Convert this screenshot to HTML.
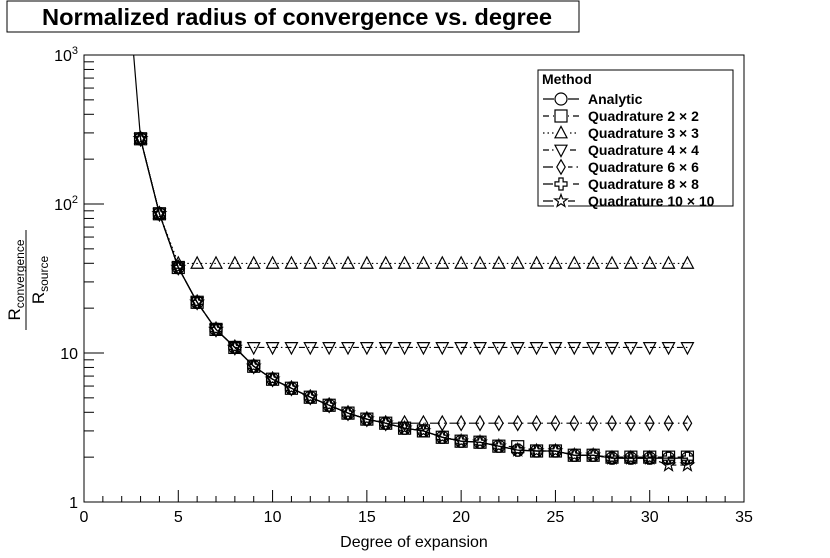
<!DOCTYPE html>
<html><head><meta charset="utf-8"><style>
body{margin:0;background:#fff;}
svg{display:block;font-family:"Liberation Sans",sans-serif;}
</style></head><body>
<svg id="c" width="830" height="558" viewBox="0 0 830 558">
<defs><clipPath id="clip"><rect x="84" y="55" width="660" height="447"/></clipPath></defs>
<rect x="7" y="1" width="572" height="31" fill="#fff" stroke="#000"/>
<text x="42" y="25" font-size="23" font-weight="bold" textLength="510" lengthAdjust="spacingAndGlyphs">Normalized radius of convergence vs. degree</text>
<rect x="84" y="55" width="660" height="447" fill="none" stroke="#000"/>
<g id="axes"></g>
<g id="lines" clip-path="url(#clip)"></g>
<g id="marks"></g>
<text x="414" y="547" text-anchor="middle" font-size="16">Degree of expansion</text>
<g transform="translate(26,280) rotate(-90)">
<text x="0" y="-6" text-anchor="middle" font-size="17">R<tspan font-size="12" dy="4">convergence</tspan></text>
<line x1="-50" y1="0" x2="50" y2="0" stroke="#000"/>
<text x="0" y="18" text-anchor="middle" font-size="17">R<tspan font-size="12" dy="4">source</tspan></text>
</g>
<g id="legend">
<rect x="538" y="70" width="195" height="136" fill="#fff" stroke="#000"/>
<text x="542" y="84" font-size="14" font-weight="bold">Method</text>
</g>
</svg>
<script>
const degrees=[3,4,5,6,7,8,9,10,11,12,13,14,15,16,17,18,19,20,21,22,23,24,25,26,27,28,29,30,31,32];
const analytic=[274,86,37.5,21.9,14.4,10.9,8.15,6.67,5.8,5.05,4.46,3.95,3.6,3.38,3.13,3.0,2.72,2.56,2.52,2.37,2.23,2.2,2.2,2.06,2.06,1.97,1.97,1.97,1.97,1.97];
const quad2=[274,86,37.5,21.9,14.4,10.9,8.15,6.67,5.8,5.05,4.46,3.95,3.6,3.38,3.13,3.0,2.72,2.56,2.52,2.37,2.35,2.2,2.2,2.06,2.06,2.0,2.0,2.0,2.0,2.0];
const quad3=[274,86,39.9,39.9,39.9,39.9,39.9,39.9,39.9,39.9,39.9,39.9,39.9,39.9,39.9,39.9,39.9,39.9,39.9,39.9,39.9,39.9,39.9,39.9,39.9,39.9,39.9,39.9,39.9,39.9];
const quad4=[274,86,37.5,21.9,14.4,10.9,10.9,10.9,10.9,10.9,10.9,10.9,10.9,10.9,10.9,10.9,10.9,10.9,10.9,10.9,10.9,10.9,10.9,10.9,10.9,10.9,10.9,10.9,10.9,10.9];
const quad6=[274,86,37.5,21.9,14.4,10.9,8.15,6.67,5.8,5.05,4.46,3.95,3.6,3.38,3.38,3.38,3.38,3.38,3.38,3.38,3.38,3.38,3.38,3.38,3.38,3.38,3.38,3.38,3.38,3.38];
const quad8=[274,86,37.5,21.9,14.4,10.9,8.15,6.67,5.8,5.05,4.46,3.95,3.6,3.38,3.13,3.0,2.72,2.56,2.52,2.37,2.23,2.2,2.2,2.06,2.06,1.97,1.97,1.97,1.97,1.97];
const quad10=[274,86,37.5,21.9,14.4,10.9,8.15,6.67,5.8,5.05,4.46,3.95,3.6,3.38,3.13,3.0,2.72,2.56,2.52,2.37,2.23,2.2,2.2,2.06,2.06,1.97,1.97,1.97,1.77,1.77];
const xTicks=[0,5,10,15,20,25,30,35];
const yTicks=[1,10,100,1000];
const yTickLabels=["1","10","10^2","10^3"];

const NS="http://www.w3.org/2000/svg";
const X0=84,X1=744,Y0=502,Y1=55,XMAX=35;
const xs=v=>X0+(X1-X0)*v/XMAX;
const ys=v=>Y0-(Y0-Y1)*Math.log10(v)/3;
function mk(tag,attrs,parent){const e=document.createElementNS(NS,tag);for(const k in attrs)e.setAttribute(k,attrs[k]);parent.appendChild(e);return e;}
const axes=document.getElementById('axes');
for(let i=0;i<=XMAX;i++){
  const t=mk('line',{x1:xs(i),x2:xs(i),y1:Y0,y2:Y0-(i%5?6:12),stroke:'#000'},axes);
  
  
}
xTicks.forEach(v=>{const t=mk('text',{x:xs(v),y:Y0+20,'text-anchor':'middle','font-size':16},axes);t.textContent=v;
  
  });
for(let d=0;d<3;d++)for(let m=1;m<=10;m++){
  const v=m*Math.pow(10,d);
  const t=mk('line',{x1:X0,x2:X0+(m===1||m===10?20:10),y1:ys(v),y2:ys(v),stroke:'#000'},axes);
  
  
}
yTicks.forEach((v,i)=>{const t=mk('text',{x:X0-6,y:ys(v)+6,'text-anchor':'end','font-size':16},axes);
  const s=yTickLabels[i];
  if(s.includes('^')){const p=s.split('^');t.textContent=p[0];const sp=mk('tspan',{'font-size':11,dy:-7},t);sp.textContent=p[1];}
  else t.textContent=s;
  
  });

const series=[
 {name:'analytic',label:'Analytic',data:analytic,dash:'',m:'circle'},
 {name:'quadrature-2x2',label:'Quadrature 2 \u00d7 2',data:quad2,dash:'6,4',m:'square'},
 {name:'quadrature-3x3',label:'Quadrature 3 \u00d7 3',data:quad3,dash:'1.5,3',m:'tri'},
 {name:'quadrature-4x4',label:'Quadrature 4 \u00d7 4',data:quad4,dash:'6,3,1.5,3',m:'tridown'},
 {name:'quadrature-6x6',label:'Quadrature 6 \u00d7 6',data:quad6,dash:'10,4,1.5,4',m:'diamond'},
 {name:'quadrature-8x8',label:'Quadrature 8 \u00d7 8',data:quad8,dash:'10,5',m:'cross'},
 {name:'quadrature-10x10',label:'Quadrature 10 \u00d7 10',data:quad10,dash:'10,4,4,4',m:'star'}];
function marker(type,x,y,parent,s){
  s=s||6;const a={fill:'none',stroke:'#000','stroke-width':1.2};let e;
  if(type==='circle')e=mk('circle',Object.assign({cx:x,cy:y,r:s},a),parent);
  else if(type==='square')e=mk('rect',Object.assign({x:x-s,y:y-s,width:2*s,height:2*s},a),parent);
  else{let p;
    if(type==='tri')p=[[0,-s*1.1],[s,s*0.8],[-s,s*0.8]];
    else if(type==='tridown')p=[[0,s*1.1],[s,-s*0.8],[-s,-s*0.8]];
    else if(type==='diamond')p=[[0,-s*1.2],[s*0.7,0],[0,s*1.2],[-s*0.7,0]];
    else if(type==='cross'){const k=s*0.35;p=[[-k,-s],[k,-s],[k,-k],[s,-k],[s,k],[k,k],[k,s],[-k,s],[-k,k],[-s,k],[-s,-k],[-k,-k]];}
    else{p=[];for(let i=0;i<10;i++){const r=i%2?s*0.45:s*1.1;const an=-Math.PI/2+i*Math.PI/5;p.push([r*Math.cos(an),r*Math.sin(an)]);}}
    e=mk('polygon',Object.assign({points:p.map(q=>(x+q[0])+','+(y+q[1])).join(' ')},a),parent);}
  return e;
}
const lines=document.getElementById('lines'),marks=document.getElementById('marks');
series.forEach((s,si)=>{
  let pts=s.data.map((v,i)=>[xs(degrees[i]),ys(v)]);
  if(si===0)pts=[[xs(2.5),ys(1600)]].concat(pts);
  const pl=mk('polyline',{points:pts.map(p=>p.join(',')).join(' '),fill:'none',stroke:'#000','stroke-width':1.2,'stroke-dasharray':s.dash},lines);
  
  
  s.data.forEach((v,i)=>{const e=marker(s.m,xs(degrees[i]),ys(v),marks);
    
    });
  const leg=document.getElementById('legend');
  const ly=99+si*17;
  const g=mk('g',{},leg);
  
  
  mk('line',{x1:543,x2:579,y1:ly,y2:ly,stroke:'#000','stroke-width':1.2,'stroke-dasharray':s.dash},g);
  mk('rect',{x:554,y:ly-8,width:14,height:16,fill:'#fff'},g);
  marker(s.m,561,ly,g,6);
  const t=mk('text',{x:588,y:ly+5,'font-size':14,'font-weight':'bold'},g);t.textContent=s.label;
});
</script>
</body></html>
